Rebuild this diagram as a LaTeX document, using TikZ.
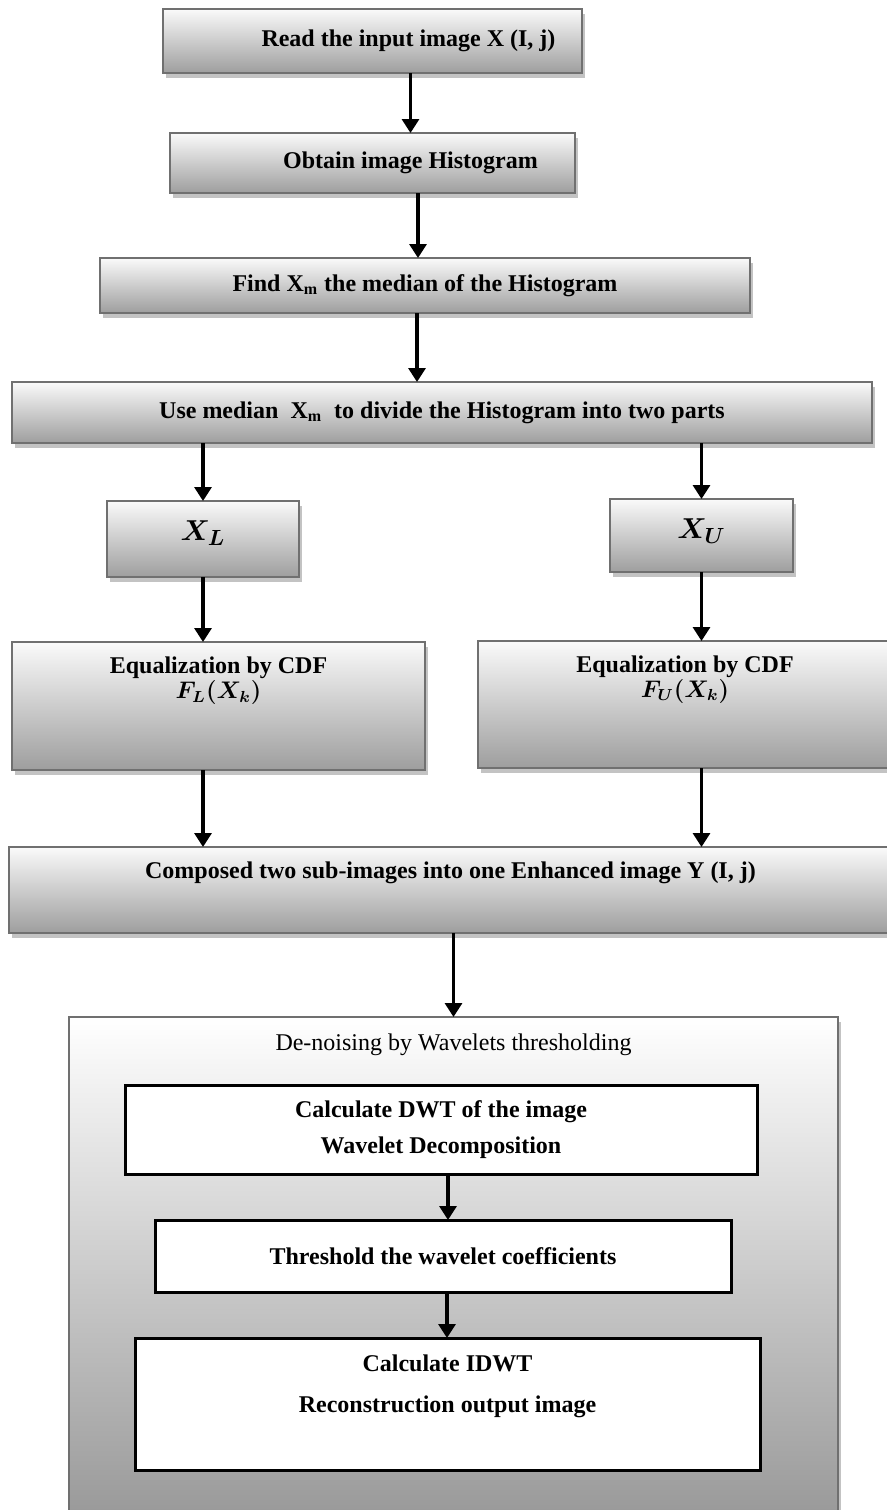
\documentclass[tikz,border=0pt]{standalone}
\usepackage{fontspec}
\setmainfont{Liberation Serif}
\usepackage{amsmath,amssymb}
\usepackage{tikz}
\usetikzlibrary{arrows.meta,positioning,calc,shadows}

\definecolor{boxtop}{RGB}{250,250,250}
\definecolor{boxbot}{RGB}{158,158,158}
\definecolor{boxline}{RGB}{112,112,112}
\definecolor{boxshade}{RGB}{195,195,195}

\begin{document}
\begin{tikzpicture}[x=0.5pt, y=-0.5pt,
  every node/.style={font=\fontsize{12}{14.4}\selectfont\bfseries, outer sep=0pt, inner sep=0pt},
  greybox/.style={rectangle, draw=boxline, line width=0.75pt, top color=boxtop, bottom color=boxbot, anchor=north west, align=center,
    drop shadow={shadow xshift=1.5pt, shadow yshift=-2.5pt, fill=boxshade, opacity=1}},
  whitebox/.style={rectangle, draw=black, line width=1.5pt, fill=white, anchor=north west, align=center,
    drop shadow={shadow xshift=0.6pt, shadow yshift=-0.6pt, fill=boxshade, opacity=1}},
  arr/.style={-{Triangle[length=7pt,width=8.5pt]}, line width=1.6pt}]
\clip (0,0) rectangle (887,1510);

% histogram part
\node[greybox, minimum width=209.5pt, minimum height=32pt] (read) at (163,9) {\hspace*{36pt}Read the input image X (I, j)};
\node[greybox, minimum width=202.5pt, minimum height=30pt] (hist) at (170,133) {\hspace*{38pt}Obtain image Histogram};
\node[greybox, minimum width=325pt, minimum height=27.5pt] (find) at (100,258) {Find X\textsubscript{m} the median of the Histogram};
\node[greybox, minimum width=430pt, minimum height=30.5pt] (split) at (12,382) {Use median\ \ X\textsubscript{m}\ \ to divide the Histogram into two parts};
\node[greybox, minimum width=96pt, minimum height=38pt, text depth=8pt, font=\boldmath\fontsize{15}{18}\selectfont] (xl) at (107,501) {$X_L$};
\node[greybox, minimum width=91.5pt, minimum height=36.5pt, text depth=7pt, font=\boldmath\fontsize{15}{18}\selectfont] (xu) at (610,499) {$X_U$};
\node[greybox, minimum width=206.5pt, minimum height=64pt, text depth=28pt, font=\boldmath\fontsize{12}{14.4}\selectfont\bfseries] (eql) at (12,642) {Equalization by CDF\\[-2pt] $F_L(X_k)$};
\node[greybox, minimum width=207pt, minimum height=63.5pt, text depth=28pt, font=\boldmath\fontsize{12}{14.4}\selectfont\bfseries] (equ) at (478,641) {Equalization by CDF\\[-2pt] $F_U(X_k)$};
\node[greybox, minimum width=441.5pt, minimum height=43pt, text depth=20pt] (comp) at (9,847) {Composed two sub-images into one Enhanced image Y (I, j)};

% de-noising part
\node[greybox, top color=white, bottom color=boxbot!97!black, minimum width=384.5pt, minimum height=249pt] (dn) at (69,1017) {};
\node[font=\fontsize{12}{14.4}\selectfont] (dntitle) at ([yshift=-14pt]dn.north) {De-noising by Wavelets thresholding};
\node[whitebox, minimum width=316pt, minimum height=44.5pt] (dwt) at (125,1085) {Calculate DWT of the image\\[4pt] Wavelet Decomposition};
\node[whitebox, minimum width=288pt, minimum height=36pt] (thr) at (155,1220) {Threshold the wavelet coefficients};
\node[whitebox, minimum width=312.5pt, minimum height=66pt, text depth=20pt] (idwt) at (135,1338) {Calculate IDWT\\[6pt] Reconstruction output image};

\draw[arr] ([xshift=19pt]read.south) -- ([xshift=19pt]read.south |- hist.north);
\draw[arr] ([xshift=22.75pt]hist.south) -- ([xshift=22.75pt]hist.south |- find.north);
\draw[arr] ([xshift=-4pt]find.south) -- ([xshift=-4pt]find.south |- split.north);
\draw[arr] (split.south -| xl.north) -- (xl.north);
\draw[arr] (split.south -| xu.north) -- (xu.north);
\draw[arr] (xl.south) -- (xl.south |- eql.north);
\draw[arr] (xu.south) -- (xu.south |- equ.north);
\draw[arr] (xl.south |- eql.south) -- (xl.south |- comp.north);
\draw[arr] (xu.south |- equ.south) -- (xu.south |- comp.north);
\draw[arr] (comp.south -| dn.north) -- (dn.north);
\draw[arr] ([xshift=3.5pt]dwt.south) -- ([xshift=3.5pt]dwt.south |- thr.north);
\draw[arr] ([xshift=2pt]thr.south) -- ([xshift=2pt]thr.south |- idwt.north);
\end{tikzpicture}
\end{document}
